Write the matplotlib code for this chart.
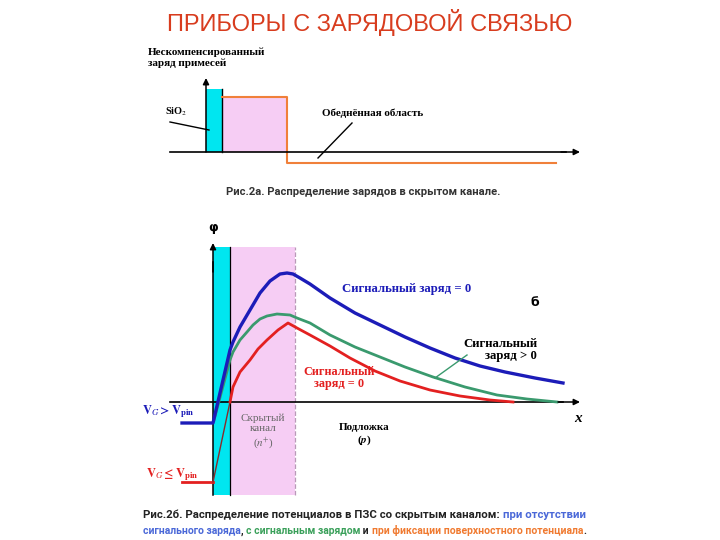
import numpy as np
import matplotlib
matplotlib.use("Agg")
import matplotlib.pyplot as plt
from matplotlib.patches import Rectangle

plt.rcParams['mathtext.fontset'] = 'stix'

# ---- data: upper panel (charge distribution), x from oxide surface, q = charge
oxide_w = 16            # SiO2 thickness
channel_end = 81        # end of buried n+ channel
depl_end = 350          # end of depletion region
q_oxide = 63
q_channel = 55
q_depl = -11

# ---- data: lower panel (potential), x from oxide surface, phi = potential
blue_x = [-31, 0, 17, 20, 27, 37, 47, 57, 67, 74, 80, 87, 97, 117, 142, 167, 192, 217,
          242, 267, 292, 322, 350]
blue_phi = [-21, -21, 52, 60, 75, 92, 109, 121, 128, 129, 128, 124, 118, 104, 89, 77, 65, 54,
            44, 36, 30, 24, 19]

green_x = [1, 17, 20, 27, 34, 40, 47, 54, 64, 77, 84, 97, 117, 142, 167, 192, 220, 252,
           284, 314, 344]
green_phi = [-18, 42, 50, 62, 70, 77, 83, 86, 88, 87, 84, 79, 67, 55, 45, 35, 25, 15,
             7, 3, 0]

red_x = [17, 20, 27, 37, 45, 54, 65, 75, 84, 97, 117, 137, 162, 187, 217, 247, 277, 300]
red_phi = [0, 15, 30, 42, 53, 62, 72, 79, 74, 67, 56, 44, 31, 21, 12, 6, 2, 0]
pin_x = [-31, 0, 17]
pin_phi = [-80, -80, 0]

CYAN = '#00e6f0'
PINK = '#f6cdf4'
ORANGE = '#f0803a'
BLUE = '#1c1cb8'
GREEN = '#3a9a6e'
RED = '#e32020'

fig = plt.figure(figsize=(7.2, 5.4), dpi=100)
bg = fig.add_axes([0, 0, 1, 1])
bg.axis('off')


def px_axes(x0, x1, y0, y1):
    ax = fig.add_axes([x0 / 720, 1 - y1 / 540, (x1 - x0) / 720, (y1 - y0) / 540])
    ax.axis('off')
    return ax


def arrow(ax, start, tip):
    ax.annotate('', xy=tip, xytext=start,
                arrowprops=dict(arrowstyle='-|>', lw=1.1, color='black',
                                mutation_scale=9, shrinkA=0, shrinkB=0))


serif_b = dict(family='Liberation Serif', weight='bold')

fig.text(0.514, 1 - 22 / 540, 'ПРИБОРЫ С ЗАРЯДОВОЙ СВЯЗЬЮ', ha='center', va='center',
         fontsize=17, color='#d83c1e', family='Liberation Sans')

# ---------------- upper panel ----------------
ax1 = px_axes(120, 600, 40, 200)
ax1.set_xlim(-86, 394)
ax1.set_ylim(-48, 112)
ax1.add_patch(Rectangle((0, 0), oxide_w, q_oxide, facecolor=CYAN, edgecolor='none'))
ax1.add_patch(Rectangle((oxide_w, 0), channel_end - oxide_w, q_channel, facecolor=PINK, edgecolor='none'))
ax1.plot([oxide_w, oxide_w], [0, q_oxide], color='black', lw=1)
ax1.plot([oxide_w, channel_end, channel_end, depl_end], [q_channel, q_channel, q_depl, q_depl],
         color=ORANGE, lw=1.5)
ax1.plot([-36, 360], [0, 0], color='black', lw=1.2)
arrow(ax1, (355, 0), (374, 0))
arrow(ax1, (0, 0), (0, 74))
ax1.text(-58, 94, 'Нескомпенсированный\nзаряд примесей', fontsize=8, ha='left', va='center',
         linespacing=1.25, **serif_b)
ax1.text(-41, 40, 'SiO$_2$', fontsize=7.5, ha='left', va='center', **serif_b)
ax1.plot([-36, 3], [30, 22], color='black', lw=1)
ax1.text(116, 39, 'Обеднённая область', fontsize=8, ha='left', va='center', **serif_b)
ax1.plot([146, 112], [29, -6], color='black', lw=1)

cap_kw = dict(weight='bold', family=['Roboto', 'DejaVu Sans'])

fig.text(363 / 720, 1 - 192 / 540, 'Рис.2а. Распределение зарядов в скрытом канале.',
         ha='center', va='center', color='#333333', fontsize=8.1, **cap_kw)

# ---------------- lower panel ----------------
ax2 = px_axes(120, 600, 215, 500)
ax2.set_xlim(-93, 387)
ax2.set_ylim(-98, 187)
ax2.add_patch(Rectangle((0, -93), oxide_w + 1, 248, facecolor=CYAN, edgecolor='none'))
ax2.add_patch(Rectangle((oxide_w + 1, -93), channel_end - oxide_w, 248, facecolor=PINK, edgecolor='none'))
ax2.plot([oxide_w + 1, oxide_w + 1], [-93, 155], color='black', lw=0.9)
ax2.plot([channel_end + 1, channel_end + 1], [-93, 155], color='#b99ab8', lw=0.9, ls='--')
ax2.plot([-43, 350], [0, 0], color='black', lw=1.2)
arrow(ax2, (345, 0), (367, 0))
ax2.plot([0, 0], [-93, 140], color='black', lw=1.1)
arrow(ax2, (0, 130), (0, 159))
ax2.text(0, 174, 'φ', fontsize=9, ha='center', va='center', weight='bold')
ax2.text(365, -16, 'x', fontsize=11, ha='center', va='center', style='italic', **serif_b)

ax2.plot(pin_x[:2], pin_phi[:2], color=RED, lw=2)
ax2.plot(pin_x[1:], pin_phi[1:], color='#8b2a2a', lw=1)
ax2.plot(red_x, red_phi, color=RED, lw=2, solid_joinstyle='round')
ax2.plot(green_x, green_phi, color=GREEN, lw=2, solid_joinstyle='round')
ax2.plot(blue_x, blue_phi, color=BLUE, lw=2.4, solid_joinstyle='round')

ax2.text(129, 113, 'Сигнальный заряд = 0', fontsize=9.2, color=BLUE, ha='left', va='center', **serif_b)
ax2.text(322, 99, 'б', fontsize=9, ha='center', va='center', weight='bold')
ax2.text(324, 52, 'Сигнальный\nзаряд > 0', fontsize=9.2, ha='right', va='center',
         multialignment='right', linespacing=1.1, **serif_b)
ax2.plot([254, 222], [47, 24], color=GREEN, lw=1)
ax2.text(126, 24, 'Сигнальный\nзаряд = 0', fontsize=8.8, color=RED, ha='center', va='center',
         linespacing=1.1, **serif_b)
ax2.text(151, -33, 'Подложка\n($\\mathbfit{p}$)', fontsize=8, ha='center', va='center',
         linespacing=1.2, **serif_b)
ax2.text(50, -30, 'Скрытый\nканал\n($n^{+}$)', fontsize=8, color='#666666', ha='center', va='center',
         linespacing=1.2, family='Liberation Serif')
ax2.text(-71, -10, r'$\mathbf{V_{\mathit{G}} > V_{pin}}$', fontsize=9, color=BLUE, ha='left', va='center')
ax2.text(-67, -73, r'$\mathbf{V_{\mathit{G}} \leq V_{pin}}$', fontsize=9, color=RED, ha='left', va='center')

# ---------------- bottom caption (multi-colour) ----------------
DARK = '#222222'
CBLUE = '#4a68d8'
CGREEN = '#3aa05a'
CORANGE = '#f07a30'


def colored_line(x, y, parts, size):
    t = bg.text(x, y, parts[0][0], color=parts[0][1], va='bottom', transform=bg.transAxes,
                fontsize=size, **cap_kw)
    for s, c in parts[1:]:
        t = bg.annotate(s, xy=(1, 0), xycoords=t, va='bottom', color=c, fontsize=size, **cap_kw)


colored_line(143 / 720, 1 - 520 / 540,
             [('Рис.2б. Распределение потенциалов в ПЗС со скрытым каналом: ', DARK),
              ('при отсутствии', CBLUE)], 8.2)
colored_line(143 / 720, 1 - 536 / 540,
             [('сигнального заряда', CBLUE), (', ', DARK), ('с сигнальным зарядом', CGREEN),
              (' и ', DARK), ('при фиксации поверхностного потенциала', CORANGE), ('.', DARK)], 7.45)

fig.savefig('out.png', dpi=100)
